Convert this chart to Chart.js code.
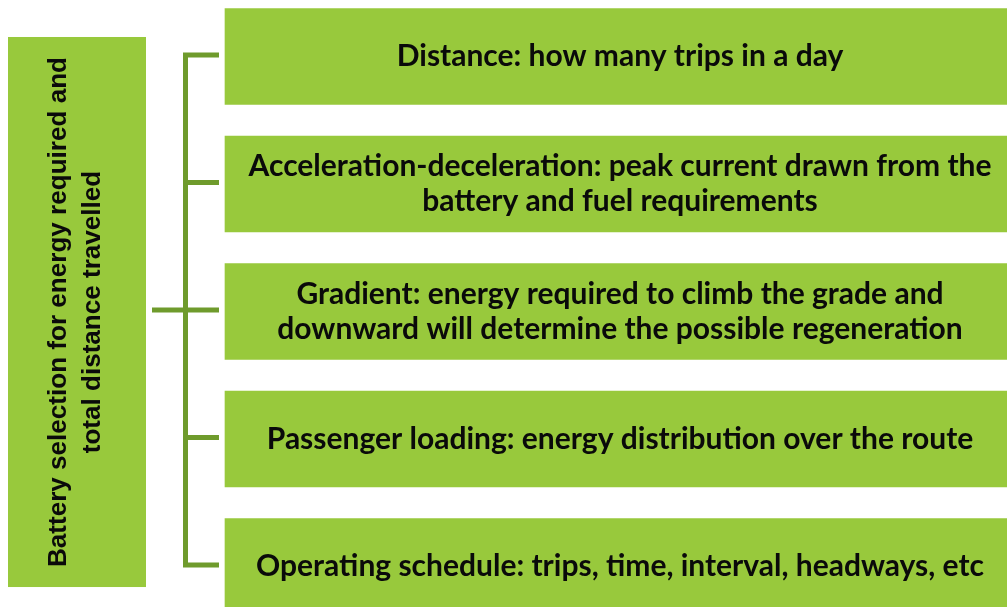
<!DOCTYPE html>
<html><head><meta charset="utf-8">
<script src="https://cdn.jsdelivr.net/npm/chart.js@4/dist/chart.umd.min.js"></script>
<style>html,body{margin:0;padding:0;background:#fff;overflow:hidden}canvas{display:block}</style>
</head><body>
<canvas id="c" width="1007" height="607"></canvas>
<script>
// ---- data ----
const categories = [
  ["Distance: how many trips in a day"],
  ["Acceleration-deceleration: peak current drawn from the", "battery and fuel requirements"],
  ["Gradient: energy required to climb the grade and", "downward will determine the possible regeneration"],
  ["Passenger loading: energy distribution over the route"],
  ["Operating schedule: trips, time, interval, headways, etc"]
];
const rootLabel = ["Battery selection for energy required and", "total distance travelled"];

// ---- styling / layout ----
const GREEN = "#98C93C";
const DARK = "#6F9B2C";
const FONT = "bold 30px Lato, 'Open Sans', sans-serif";
const ROOT_FONT = "bold 26px 'Liberation Sans', Arial, sans-serif";
const ROOT_TEXT_LEN = 510;
const W = 1007, H = 607;
const boxLeft = 225, boxRight = 1012;
const pitch = 127.5, firstCenter = 56.5;

const ctx = document.getElementById('c').getContext('2d');

const diagramPlugin = {
  id: 'diagram',
  beforeDatasetsDraw(chart) {
    const c = chart.ctx, xs = chart.scales.x, ys = chart.scales.y;
    // root box
    const rootTop = ys.getPixelForValue(-0.153), rootBot = ys.getPixelForValue(4.161);
    const rl = xs.getPixelForValue(8), rr = xs.getPixelForValue(146);
    c.save();
    c.fillStyle = GREEN;
    c.fillRect(rl, rootTop, rr - rl, rootBot - rootTop);
    // root text (condensed to fit)
    c.translate((rl + rr) / 2 - 1, (rootTop + rootBot) / 2);
    c.rotate(-Math.PI / 2);
    c.fillStyle = "#0a0a0a";
    c.font = ROOT_FONT;
    const wmax = Math.max(...rootLabel.map(t => c.measureText(t).width));
    c.scale(ROOT_TEXT_LEN / wmax, 1);
    c.textAlign = "center";
    c.textBaseline = "middle";
    const lh = 34;
    rootLabel.forEach((t, k) => c.fillText(t, 0, (k - (rootLabel.length - 1) / 2) * lh));
    c.restore();

    // bracket
    const vx = xs.getPixelForValue(185.5);
    const tickEnd = xs.getPixelForValue(219);
    const ticksY = categories.map((_, i) => ys.getPixelForValue(i) - 1.5);
    c.save();
    c.strokeStyle = DARK;
    c.lineWidth = 5;
    c.lineCap = "butt";
    c.lineJoin = "miter";
    c.beginPath();
    c.moveTo(tickEnd, ticksY[0]);
    c.lineTo(vx, ticksY[0]);
    c.lineTo(vx, ticksY[ticksY.length - 1]);
    c.lineTo(tickEnd, ticksY[ticksY.length - 1]);
    for (let i = 1; i < ticksY.length - 1; i++) {
      const start = (i === 2) ? xs.getPixelForValue(152) : vx;
      c.moveTo(start, ticksY[i]);
      c.lineTo(tickEnd, ticksY[i]);
    }
    c.stroke();
    c.restore();
  },
  afterDatasetsDraw(chart) {
    const c = chart.ctx;
    const meta = chart.getDatasetMeta(0);
    c.save();
    c.fillStyle = "#0a0a0a";
    c.font = FONT;
    c.textAlign = "center";
    c.textBaseline = "middle";
    const cx = chart.scales.x.getPixelForValue(620);
    meta.data.forEach((bar, i) => {
      const lines = categories[i];
      const lh = 35;
      lines.forEach((t, k) => {
        c.fillText(t, cx, bar.y + (k - (lines.length - 1) / 2) * lh);
      });
    });
    c.restore();
  }
};

new Chart(ctx, {
  type: 'bar',
  data: {
    datasets: [{
      data: categories.map((_, i) => ({ y: i, x: [boxLeft, boxRight] })),
      backgroundColor: GREEN,
      borderWidth: 0,
      barThickness: 96
    }]
  },
  options: {
    indexAxis: 'y',
    responsive: false,
    animation: false,
    layout: { padding: 0 },
    plugins: { legend: { display: false }, tooltip: { enabled: false } },
    scales: {
      x: { type: 'linear', min: 0, max: W, display: false, offset: false, grace: 0 },
      y: { type: 'linear', reverse: true, offset: false, grace: 0,
           min: -firstCenter / pitch, max: (H - firstCenter) / pitch, display: false }
    }
  },
  plugins: [diagramPlugin]
});
</script>
</body></html>
